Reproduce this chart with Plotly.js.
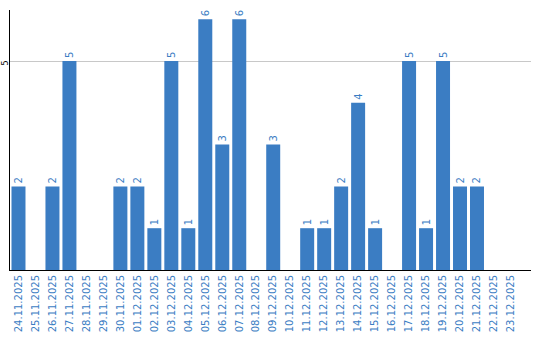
<!DOCTYPE html>
<html><head><meta charset="utf-8">
<script src="https://cdn.plot.ly/plotly-3.0.1.min.js"></script>
<style>html,body{margin:0;padding:0;background:#fff}</style>
</head><body>
<div id="chart" style="width:540px;height:340px"></div>
<script>
const categories = ["24.11.2025","25.11.2025","26.11.2025","27.11.2025","28.11.2025","29.11.2025","30.11.2025","01.12.2025","02.12.2025","03.12.2025","04.12.2025","05.12.2025","06.12.2025","07.12.2025","08.12.2025","09.12.2025","10.12.2025","11.12.2025","12.12.2025","13.12.2025","14.12.2025","15.12.2025","16.12.2025","17.12.2025","18.12.2025","19.12.2025","20.12.2025","21.12.2025","22.12.2025","23.12.2025"];
const values = [2,0,2,5,0,0,2,2,1,5,1,6,3,6,0,3,0,1,1,2,4,1,0,5,1,5,2,2,0,0];
const yTicks = [5];

const blue = '#3b7dc3';
const trace = {
  type: 'bar',
  x: categories,
  y: values,
  marker: {color: blue},
  text: values.map(v => v ? String(v) : ''),
  textposition: 'outside',
  textangle: -90,
  textfont: {family: 'DejaVu Sans', size: 10, color: blue},
  cliponaxis: false,
  hoverinfo: 'none'
};
const layout = {
  width: 540, height: 340,
  margin: {l: 10, r: 9, t: 10, b: 70},
  paper_bgcolor: '#fff', plot_bgcolor: '#fff',
  bargap: 0.176,
  showlegend: false,
  xaxis: {
    type: 'category',
    range: [-0.5, 30.18],
    showline: true, linecolor: '#000', linewidth: 1,
    tickangle: -90,
    tickfont: {family: 'DejaVu Sans', size: 10, color: blue},
    ticks: '', showgrid: false, zeroline: false
  },
  yaxis: {
    range: [0, 6.22],
    tickvals: yTicks, showticklabels: false,
    showline: true, linecolor: '#000', linewidth: 1,
    showgrid: true, gridcolor: '#c8c8c8', gridwidth: 1,
    zeroline: false, ticks: ''
  },
  annotations: yTicks.map(t => ({
    xref: 'paper', x: 0, xanchor: 'center', xshift: -5.5,
    yref: 'y', y: t, yanchor: 'middle', yshift: -2,
    text: String(t), textangle: -90, showarrow: false, borderpad: 0,
    font: {family: 'DejaVu Sans', size: 8, color: '#000'}
  }))
};
Plotly.newPlot('chart', [trace], layout, {staticPlot: true, displayModeBar: false});
</script>
</body></html>
